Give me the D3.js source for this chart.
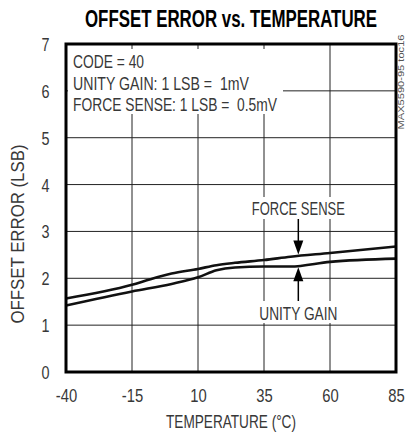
<!DOCTYPE html>
<html><head><meta charset="utf-8">
<script src="https://cdn.jsdelivr.net/npm/d3@7"></script>
<style>
body{margin:0;background:#fff}
text{font-family:"Liberation Sans",Arial,sans-serif;fill:#383838}
</style></head>
<body><svg id="c" width="406" height="433"></svg>
<script>
// ---- data ----
const xTicks = [-40, -15, 10, 35, 60, 85];
const yTicks = [0, 1, 2, 3, 4, 5, 6, 7];
const forceTemp = [-40, -15, -8, 0, 10, 17, 24, 35, 45, 60, 85];
const forceVals = [1.57, 1.86, 1.98, 2.10, 2.20, 2.28, 2.33, 2.39, 2.46, 2.54, 2.68];
const unityTemp = [-40, -15, 0, 10, 17, 24, 35, 45, 60, 85];
const unityVals = [1.42, 1.72, 1.88, 2.02, 2.17, 2.23, 2.25, 2.25, 2.35, 2.42];
const legendLines = ["CODE = 40", "UNITY GAIN: 1 LSB =  1mV", "FORCE SENSE: 1 LSB =  0.5mV"];
const titleText = "OFFSET ERROR vs. TEMPERATURE";
const xTitle = "TEMPERATURE (°C)";
const yTitle = "OFFSET ERROR (LSB)";
const annotTemp = 48;

// ---- layout ----
const W = 406, H = 433;
const m = {l: 66, r: 10, t: 44, b: 61};
const svg = d3.select("#c");
const x = d3.scaleLinear().domain([-40, 85]).range([m.l, W - m.r]);
const y = d3.scaleLinear().domain([0, 7]).range([H - m.b, m.t]);
const squeeze = (sel, f) => sel.each(function () {
  const n = this.getComputedTextLength();
  d3.select(this).attr("textLength", n * f).attr("lengthAdjust", "spacingAndGlyphs");
});

// grid
const g = svg.append("g");
g.selectAll(".vx").data(xTicks.slice(1, -1)).join("line")
  .attr("x1", d => x(d)).attr("x2", d => x(d)).attr("y1", y(7)).attr("y2", y(0))
  .attr("stroke", "#222").attr("stroke-width", 1);
g.selectAll(".hy").data(yTicks.slice(1, -1)).join("line")
  .attr("y1", d => y(d)).attr("y2", d => y(d)).attr("x1", x(-40)).attr("x2", x(85))
  .attr("stroke", "#222").attr("stroke-width", 1);

// legend box (white) and texts
svg.append("rect").attr("x", x(-40) + 2).attr("y", 49).attr("width", 215).attr("height", 65).attr("fill", "#fff");
const legW = [71, 176, 204];
const legY = [68, 89.5, 111];
legendLines.forEach((t, i) => {
  svg.append("text").attr("x", 73).attr("y", legY[i])
    .attr("font-size", 19).attr("textLength", legW[i]).attr("lengthAdjust", "spacingAndGlyphs")
    .style("white-space", "pre").text(t);
});

// annotation label boxes
const ax = x(annotTemp);
svg.append("rect").attr("x", ax - 49).attr("y", 197).attr("width", 98).attr("height", 22).attr("fill", "#fff");
svg.append("rect").attr("x", ax - 42).attr("y", 301).attr("width", 84).attr("height", 22).attr("fill", "#fff");

// curves
const line = d3.line().x(d => x(d[0])).y(d => y(d[1])).curve(d3.curveMonotoneX);
const fData = forceTemp.map((t, i) => [t, forceVals[i]]);
const uData = unityTemp.map((t, i) => [t, unityVals[i]]);
svg.append("path").datum(fData).attr("d", line).attr("fill", "none").attr("stroke", "#111").attr("stroke-width", 2.6);
svg.append("path").datum(uData).attr("d", line).attr("fill", "none").attr("stroke", "#111").attr("stroke-width", 2.6);

// frame
svg.append("rect").attr("x", x(-40)).attr("y", y(7)).attr("width", x(85) - x(-40)).attr("height", y(0) - y(7))
  .attr("fill", "none").attr("stroke", "#000").attr("stroke-width", 3);

// annotations
const interp = (ts, vs, t) => { const i = d3.bisectLeft(ts, t); const f = (t - ts[i-1]) / (ts[i] - ts[i-1]); return vs[i-1] + f * (vs[i] - vs[i-1]); };
const fTip = y(interp(forceTemp, forceVals, annotTemp)) - 1.5;
const uTip = y(interp(unityTemp, unityVals, annotTemp)) + 1.5;
svg.append("text").attr("x", ax).attr("y", 215).attr("text-anchor", "middle").attr("font-size", 18.5)
  .attr("textLength", 93).attr("lengthAdjust", "spacingAndGlyphs").text("FORCE SENSE");
svg.append("line").attr("x1", ax).attr("x2", ax).attr("y1", 219).attr("y2", fTip - 12).attr("stroke", "#000").attr("stroke-width", 1.5);
svg.append("path").attr("d", `M${ax - 5},${fTip - 14}L${ax + 5},${fTip - 14}L${ax},${fTip}Z`).attr("fill", "#000");
svg.append("text").attr("x", ax).attr("y", 320).attr("text-anchor", "middle").attr("font-size", 18.5)
  .attr("textLength", 78).attr("lengthAdjust", "spacingAndGlyphs").text("UNITY GAIN");
svg.append("line").attr("x1", ax).attr("x2", ax).attr("y1", 301).attr("y2", uTip + 12).attr("stroke", "#000").attr("stroke-width", 1.5);
svg.append("path").attr("d", `M${ax - 5},${uTip + 14}L${ax + 5},${uTip + 14}L${ax},${uTip}Z`).attr("fill", "#000");

// axes
const xa = svg.append("g").attr("transform", `translate(0,${y(0)})`)
  .call(d3.axisBottom(x).tickValues(xTicks).tickSize(0).tickPadding(0).tickFormat(d => String(d)));
xa.select(".domain").remove();
xa.selectAll("text").attr("font-size", 18.5).attr("font-family", null).attr("dy", null).attr("y", 29.5).style("fill", "#383838")
  .call(squeeze, 0.8);
const ya = svg.append("g").attr("transform", `translate(${m.l - 20.5},0)`)
  .call(d3.axisLeft(y).tickValues(yTicks).tickSize(0).tickFormat(d => String(d)));
ya.select(".domain").remove();
ya.selectAll("text").attr("font-size", 18).attr("font-family", null).attr("text-anchor", "middle").attr("x", 0)
  .attr("dy", "0.36em").style("fill", "#383838").call(squeeze, 0.8);

// titles
svg.append("text").attr("x", (x(-40) + x(85)) / 2).attr("y", 27).attr("text-anchor", "middle")
  .attr("font-size", 23.5).attr("font-weight", "bold").attr("textLength", 292).attr("lengthAdjust", "spacingAndGlyphs")
  .style("fill", "#000").text(titleText);
svg.append("text").attr("x", (x(-40) + x(85)) / 2).attr("y", 428).attr("text-anchor", "middle")
  .attr("font-size", 18).attr("textLength", 130).attr("lengthAdjust", "spacingAndGlyphs").text(xTitle);
svg.append("text").attr("transform", "translate(23.5,234) rotate(-90)").attr("text-anchor", "middle")
  .attr("font-size", 18).attr("textLength", 179).attr("lengthAdjust", "spacingAndGlyphs").text(yTitle);
svg.append("text").attr("transform", "translate(404,82) rotate(-90)").attr("text-anchor", "middle")
  .attr("font-size", 8.5).attr("textLength", 95).attr("lengthAdjust", "spacingAndGlyphs").style("fill", "#555").text("MAX5590-95 toc16");
</script></body></html>
